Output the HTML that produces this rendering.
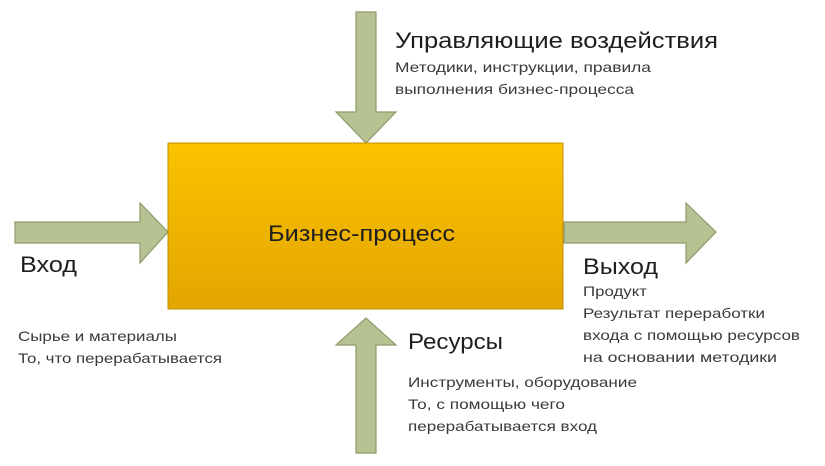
<!DOCTYPE html>
<html><head><meta charset="utf-8"><style>
html,body{margin:0;padding:0;background:#fff;}
svg{display:block;}
text{font-family:"Liberation Sans","DejaVu Sans",sans-serif;}
.t{font-size:22px;fill:#1e1e1e;}
.s{font-size:14px;fill:#3a3a3a;}
</style></head><body>
<svg width="825" height="466" viewBox="0 0 825 466" xmlns="http://www.w3.org/2000/svg">
<defs>
<linearGradient id="g" x1="0" y1="0" x2="0" y2="1">
<stop offset="0" stop-color="#fbc300"/><stop offset="1" stop-color="#e3a500"/>
</linearGradient>
</defs>
<g fill="#b7c292" stroke="#8e9b69" stroke-width="1.2">
<polygon points="356,12 376,12 376,112 396,112 366,143 336,112 356,112"/>
<polygon points="15,222 140,222 140,203 168,232 140,263 140,243 15,243"/>
<polygon points="564,222 686,222 686,203 716,232 686,263 686,243 564,243"/>
<polygon points="356,453 376,453 376,345 396,345 366,318 336,345 356,345"/>
</g>
<rect x="168" y="143" width="395" height="166" fill="url(#g)" stroke="#c28f08" stroke-width="1"/>
<text class="t" x="395" y="48" textLength="323" lengthAdjust="spacingAndGlyphs">Управляющие воздействия</text>
<text class="s" x="395" y="72" textLength="256" lengthAdjust="spacingAndGlyphs">Методики, инструкции, правила</text>
<text class="s" x="395" y="94" textLength="239" lengthAdjust="spacingAndGlyphs">выполнения бизнес-процесса</text>
<text class="t" x="268" y="241" textLength="187" lengthAdjust="spacingAndGlyphs">Бизнес-процесс</text>
<text class="t" x="20" y="272" textLength="57" lengthAdjust="spacingAndGlyphs">Вход</text>
<text class="t" x="583" y="274" textLength="75" lengthAdjust="spacingAndGlyphs">Выход</text>
<text class="s" x="583" y="296" textLength="64" lengthAdjust="spacingAndGlyphs">Продукт</text>
<text class="s" x="583" y="318" textLength="182" lengthAdjust="spacingAndGlyphs">Результат переработки</text>
<text class="s" x="583" y="340" textLength="217" lengthAdjust="spacingAndGlyphs">входа с помощью ресурсов</text>
<text class="s" x="583" y="362" textLength="194" lengthAdjust="spacingAndGlyphs">на основании методики</text>
<text class="s" x="18" y="341" textLength="159" lengthAdjust="spacingAndGlyphs">Сырье и материалы</text>
<text class="s" x="18" y="363" textLength="204" lengthAdjust="spacingAndGlyphs">То, что перерабатывается</text>
<text class="t" x="408" y="349" textLength="95" lengthAdjust="spacingAndGlyphs">Ресурсы</text>
<text class="s" x="408" y="387" textLength="229" lengthAdjust="spacingAndGlyphs">Инструменты, оборудование</text>
<text class="s" x="408" y="409" textLength="157" lengthAdjust="spacingAndGlyphs">То, с помощью чего</text>
<text class="s" x="408" y="431" textLength="189" lengthAdjust="spacingAndGlyphs">перерабатывается вход</text>
</svg>
</body></html>
